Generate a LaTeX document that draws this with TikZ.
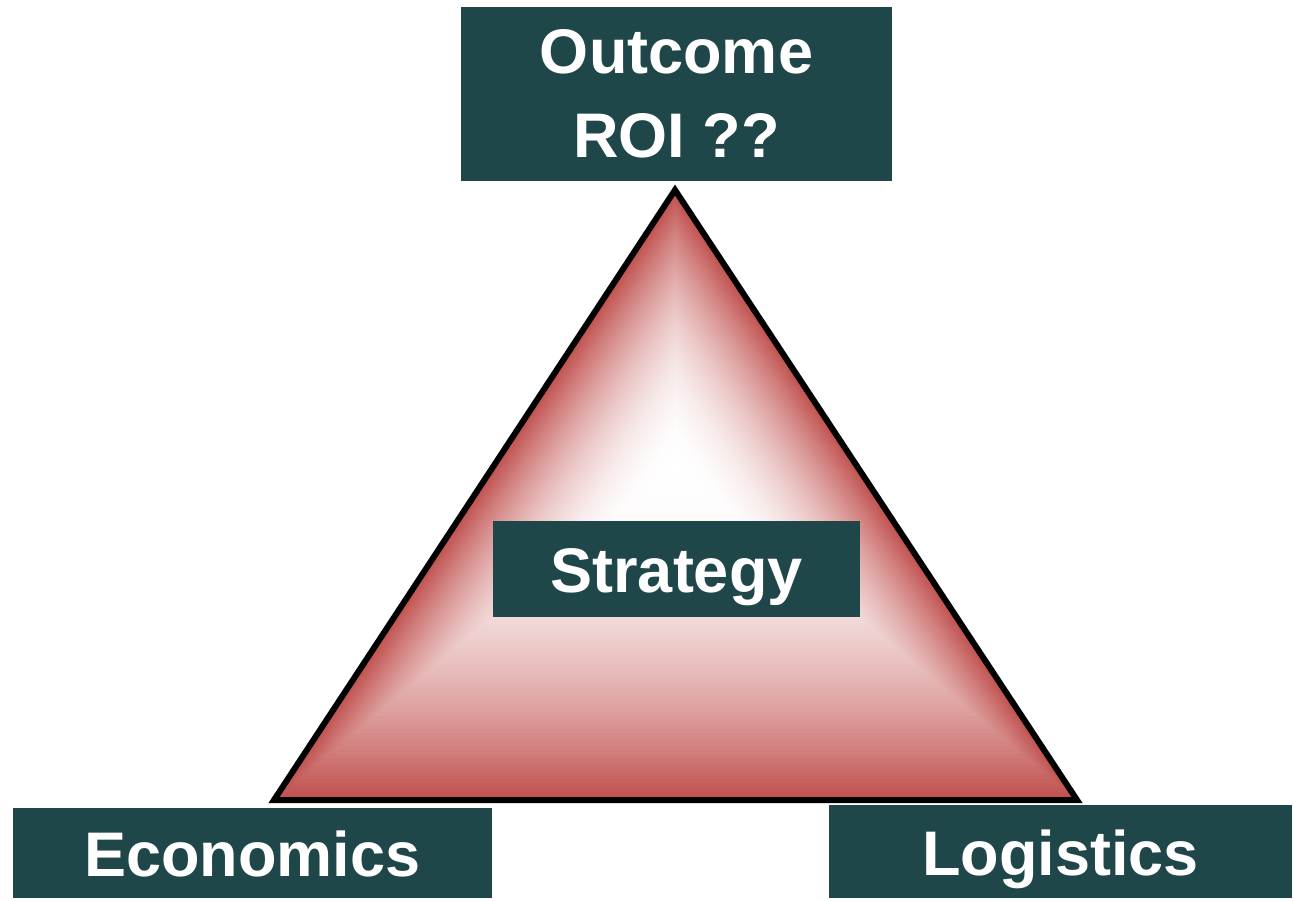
\documentclass[tikz,border=0pt]{standalone}
\usepackage{fontspec}
\setmainfont{Liberation Sans}
\usetikzlibrary{calc}
\definecolor{boxteal}{HTML}{1F4649}
\definecolor{trired}{HTML}{C0504D}

\begin{document}
\begin{tikzpicture}[x=0.5pt,y=-0.5pt,
    box/.style={fill=boxteal,text=white,inner sep=0pt,
      font=\bfseries\fontsize{31.5}{42}\selectfont},
    oneline/.style={box,text height=23.6pt,text depth=0pt}]

  \useasboundingbox (0,0) rectangle (1293,900);

  \coordinate (apex) at (675,190);
  \coordinate (bl) at (274,800);
  \coordinate (br) at (1077,800);
  \coordinate (mid) at (676,465);

  % triangle fill: nested copies from the edge in to the centre
  \foreach \i in {0,...,80} {
    \pgfmathsetmacro\fr{1-\i/80}
    \pgfmathsetmacro\pct{100*\fr*\fr}
    \fill[trired!\pct!white] ($(mid)!\fr!(apex)$) -- ($(mid)!\fr!(bl)$)
      -- ($(mid)!\fr!(br)$) -- cycle;
  }
  \draw[line width=3pt,line join=miter] (apex) -- (bl) -- (br) -- cycle;

  \node[box,minimum width=215.5pt,minimum height=87pt,align=center]
    (outcome) at (676.5,94) {Outcome\\ROI ??};
  \node[oneline,minimum width=183.5pt,minimum height=48pt]
    (strategy) at (676.5,569) {Strategy};
  \node[oneline,minimum width=239.5pt,minimum height=45pt]
    (economics) at (252.5,853) {Economics};
  \node[oneline,minimum width=231.5pt,minimum height=46.5pt]
    (logistics) at (1060.5,851.5) {Logistics};
\end{tikzpicture}
\end{document}
